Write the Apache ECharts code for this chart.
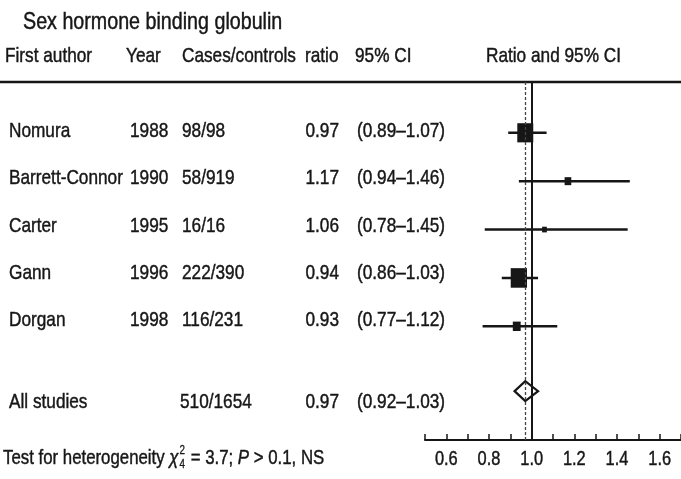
<!DOCTYPE html>
<html>
<head>
<meta charset="utf-8">
<script src="https://cdn.jsdelivr.net/npm/echarts@6/dist/echarts.min.js"></script>
<style>
  html, body { margin: 0; padding: 0; background: #ffffff; }
  #chart { width: 681px; height: 479px; }
</style>
</head>
<body>
<div id="chart"></div>
<script>
// Studies of sex hormone binding globulin: ratio and 95% confidence interval
const authors = ['Nomura', 'Barrett-Connor', 'Carter', 'Gann', 'Dorgan'];
const years = ['1988', '1990', '1995', '1996', '1998'];
const casesControls = ['98/98', '58/919', '16/16', '222/390', '116/231'];
const ratios = [0.97, 1.17, 1.06, 0.94, 0.93];
const ciLow = [0.89, 0.94, 0.78, 0.86, 0.77];
const ciHigh = [1.07, 1.46, 1.45, 1.03, 1.12];

const pooledLabel = 'All studies';
const pooledCases = '510/1654';
const pooledRatio = 0.97;
const pooledLow = 0.92;
const pooledHigh = 1.03;

const xTickLabels = [0.6, 0.8, 1.0, 1.2, 1.4, 1.6];

const titleText = 'Sex hormone binding globulin';
const headers = ['First author', 'Year', 'Cases/controls', 'ratio', '95% CI', 'Ratio and 95% CI'];

// ---- layout ----
const FONT = "'Liberation Sans', Arial, Helvetica, sans-serif";
const SX = 0.82;                   // condensed lettering
const INK = '#161616';
const SUMMARY_ROW = 5.34;          // pooled estimate sits a little below the last study
const TEXT_Y0 = 131, TEXT_STEP = 47.4, SUMMARY_TEXT_Y = 402;
const COL = { author: 9, year: 130, cases: 182, ratio: 339, ci: 357 };
const AXIS_LABEL_Y = 459;

const fmtCI = (lo, hi) => '(' + lo.toFixed(2) + '\u2013' + hi.toFixed(2) + ')';

// Box size reflects study precision (inverse of the standard error on the log scale)
const se = ciLow.map((lo, i) => (Math.log(ciHigh[i]) - Math.log(lo)) / 3.92);

const chart = echarts.init(document.getElementById('chart'), null, { renderer: 'canvas' });

function txt(text, x, y, style) {
  return {
    type: 'text', x: x, y: y, scaleX: SX, silent: true,
    style: Object.assign({
      text: text, fill: INK, font: '21px ' + FONT,
      stroke: INK, lineWidth: 0.45,
      textAlign: 'left', textVerticalAlign: 'middle'
    }, style || {})
  };
}

const graphics = [];
// title and header
graphics.push(txt(titleText, 23, 22, { font: '24px ' + FONT }));
const headerX = [5, 126, 182, 305, 355, 486];
headers.forEach((h, i) => graphics.push(txt(h, headerX[i], 56)));
// rule under the header
graphics.push({ type: 'line', silent: true, shape: { x1: 0, y1: 82, x2: 681, y2: 82 },
  style: { stroke: INK, lineWidth: 2.5 } });

// study rows
authors.forEach((a, i) => {
  const y = TEXT_Y0 + TEXT_STEP * i;
  graphics.push(txt(a, COL.author, y));
  graphics.push(txt(years[i], COL.year, y));
  graphics.push(txt(casesControls[i], COL.cases, y));
  graphics.push(txt(ratios[i].toFixed(2), COL.ratio, y, { textAlign: 'right' }));
  graphics.push(txt(fmtCI(ciLow[i], ciHigh[i]), COL.ci, y));
});
// pooled row
graphics.push(txt(pooledLabel, COL.author, SUMMARY_TEXT_Y));
graphics.push(txt(pooledCases, 180, SUMMARY_TEXT_Y));
graphics.push(txt(pooledRatio.toFixed(2), COL.ratio, SUMMARY_TEXT_Y, { textAlign: 'right' }));
graphics.push(txt(fmtCI(pooledLow, pooledHigh), COL.ci, SUMMARY_TEXT_Y));

// heterogeneity note, laid out piece by piece
(function () {
  const ctx = document.createElement('canvas').getContext('2d');
  const y = 458;
  let x = 3;
  const pieces = [
    { t: 'Test for heterogeneity ', f: '20.5px ' + FONT },
    { t: '\u03c7', f: 'italic 20.5px ' + FONT, script: true },
    { t: ' = 3.7; ', f: '20.5px ' + FONT },
    { t: 'P', f: 'italic 20.5px ' + FONT },
    { t: ' > 0.1, NS', f: '20.5px ' + FONT }
  ];
  pieces.forEach(p => {
    ctx.font = p.f;
    graphics.push(txt(p.t, x, y, { font: p.f }));
    x += ctx.measureText(p.t).width * SX;
    if (p.script) {
      const sf = '12px ' + FONT;
      graphics.push(txt('2', x + 1, y - 7, { font: sf, lineWidth: 0.3 }));
      graphics.push(txt('4', x + 1, y + 7, { font: sf, lineWidth: 0.3 }));
      ctx.font = sf;
      x += ctx.measureText('2').width * SX + 2;
    }
  });
})();

const ciData = authors.map((a, i) => [ciLow[i], ciHigh[i], i]);
const pointData = authors.map((a, i) => ({
  value: [ratios[i], i],
  symbolSize: [0.75 / se[i], 0.9 / se[i]]
}));

const option = {
  backgroundColor: '#ffffff',
  animation: false,
  grid: { left: 425, right: -2, top: 82, bottom: 39, containLabel: false },
  xAxis: {
    type: 'value', min: 0.5, max: 1.7, interval: 0.1,
    axisLine: { show: true, onZero: false, lineStyle: { color: INK, width: 2 } },
    axisTick: { show: true, inside: true, length: 6, lineStyle: { color: INK, width: 1.5 } },
    splitLine: { show: false },
    axisLabel: { show: false }
  },
  yAxis: {
    type: 'value', inverse: true, min: -1.05, max: 6.35, show: false
  },
  series: [
    {
      name: 'CI', type: 'custom', z: 2,
      encode: { x: [0, 1], y: 2 },
      data: ciData,
      renderItem: (params, api) => {
        const a = api.coord([api.value(0), api.value(2)]);
        const b = api.coord([api.value(1), api.value(2)]);
        return { type: 'line', shape: { x1: a[0], y1: a[1], x2: b[0], y2: b[1] },
          style: { stroke: INK, lineWidth: 2.5 } };
      },
      markLine: {
        silent: true, symbol: 'none', label: { show: false }, animation: false,
        data: [
          { xAxis: 1, lineStyle: { color: INK, width: 2, type: 'solid' } },
          { xAxis: pooledRatio, lineStyle: { color: '#444', width: 1.3, type: [3, 2] } }
        ]
      }
    },
    {
      name: 'Ratio', type: 'scatter', z: 3, symbol: 'rect',
      itemStyle: { color: INK, opacity: 1 },
      data: pointData
    },
    {
      name: 'Pooled', type: 'custom', z: 4,
      encode: { x: [0, 1, 2], y: 3 },
      data: [[pooledLow, pooledRatio, pooledHigh, SUMMARY_ROW]],
      renderItem: (params, api) => {
        const l = api.coord([api.value(0), api.value(3)]);
        const c = api.coord([api.value(1), api.value(3)]);
        const r = api.coord([api.value(2), api.value(3)]);
        const h = 10;
        return { type: 'polygon',
          shape: { points: [[l[0], l[1]], [c[0], c[1] - h], [r[0], r[1]], [c[0], c[1] + h]] },
          style: { fill: 'none', stroke: INK, lineWidth: 2.2 } };
      }
    }
  ],
  graphic: { elements: graphics }
};

chart.setOption(option);

// Tick labels in the same condensed lettering, placed through the x axis scale
xTickLabels.forEach(v => {
  const px = chart.convertToPixel({ xAxisIndex: 0 }, v);
  graphics.push(txt(v.toFixed(1), px, AXIS_LABEL_Y, { font: '20px ' + FONT, textAlign: 'center' }));
});
chart.setOption({ graphic: { elements: graphics } });
</script>
</body>
</html>
